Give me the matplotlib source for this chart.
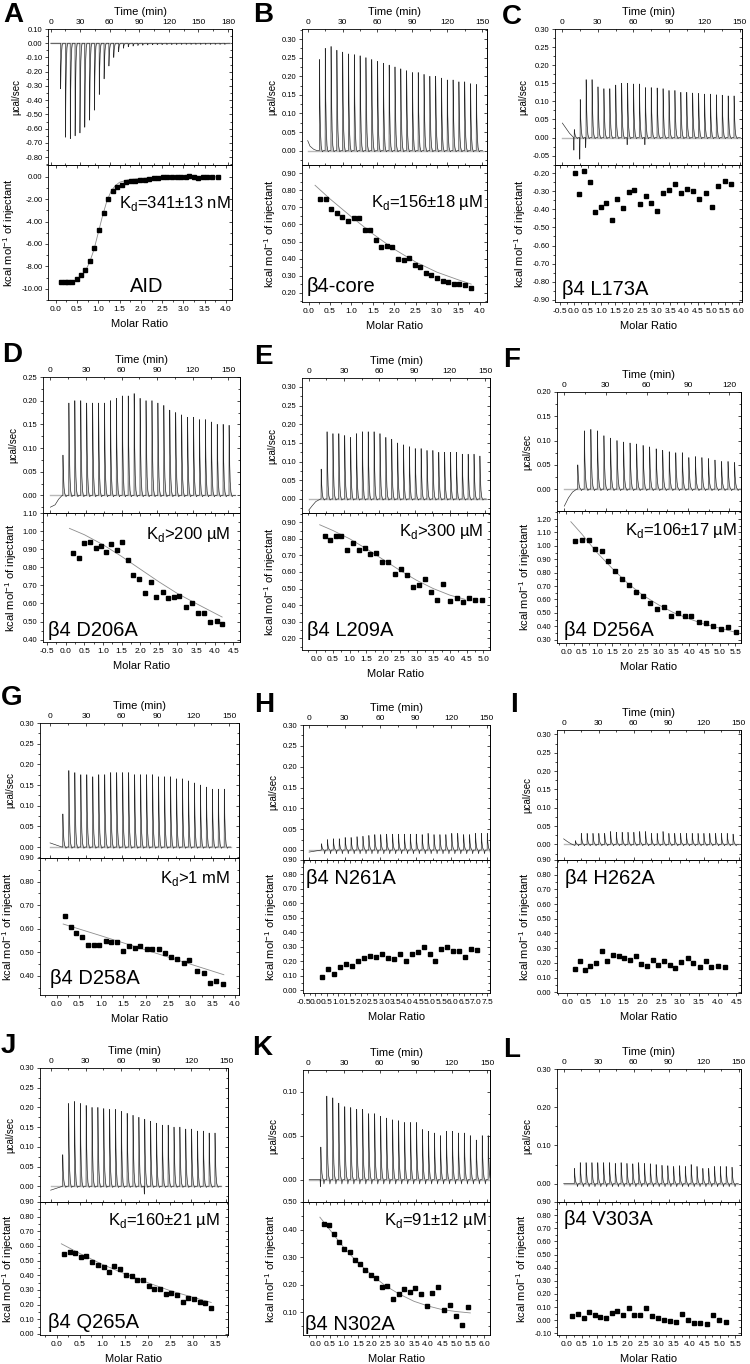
#!/usr/bin/env python3
import numpy as np
import matplotlib
matplotlib.use('Agg')
import matplotlib.pyplot as plt
from matplotlib.ticker import AutoMinorLocator, FormatStrFormatter

plt.rcParams['font.family'] = ['Liberation Sans', 'DejaVu Sans']
plt.rcParams['mathtext.fontset'] = 'custom'
plt.rcParams['mathtext.rm'] = 'Liberation Sans'
plt.rcParams['axes.unicode_minus'] = False
plt.rcParams['axes.linewidth'] = 0.6

# ---------------- data ----------------
# raw thermograms: first injection time, spacing (min), peak heights (ucal/sec)
A_t0, A_dt = 10.0, 4.9
A_peaks = [-0.32, -0.66, -0.67, -0.65, -0.63, -0.59, -0.54, -0.47, -0.36, -0.25,
           -0.16, -0.10, -0.06, -0.035, -0.025, -0.02, -0.016, -0.014, -0.012, -0.011,
           -0.010, -0.010, -0.009, -0.009, -0.009, -0.008, -0.008, -0.008, -0.008, -0.008,
           -0.008, -0.008, -0.008, -0.008, -0.008]
B_t0, B_dt = 10.0, 5.0
B_peaks = [0.245, 0.275, 0.28, 0.27, 0.265, 0.26, 0.258, 0.255, 0.25, 0.245, 0.24, 0.235,
           0.23, 0.225, 0.22, 0.215, 0.21, 0.21, 0.205, 0.20, 0.20, 0.195, 0.19, 0.19,
           0.185, 0.185, 0.18, 0.178]
C_t0, C_dt = 10.0, 5.0
C_peaks = [0.022, 0.105, 0.16, 0.16, 0.14, 0.135, 0.135, 0.145, 0.15, 0.15, 0.148, 0.148,
           0.138, 0.138, 0.137, 0.135, 0.13, 0.13, 0.125, 0.125, 0.123, 0.122, 0.12, 0.12,
           0.118, 0.117, 0.115, 0.115]
D_t0, D_dt = 10.5, 5.0
D_peaks = [0.085, 0.195, 0.20, 0.20, 0.195, 0.195, 0.195, 0.195, 0.20, 0.205, 0.21, 0.21,
           0.215, 0.205, 0.20, 0.20, 0.195, 0.19, 0.18, 0.175, 0.17, 0.165, 0.165, 0.16,
           0.16, 0.155, 0.15, 0.15, 0.148]
E_t0, E_dt = 10.5, 5.0
E_peaks = [0.08, 0.18, 0.175, 0.175, 0.17, 0.165, 0.175, 0.18, 0.18, 0.18, 0.175, 0.165,
           0.16, 0.15, 0.145, 0.14, 0.135, 0.135, 0.13, 0.13, 0.125, 0.125, 0.125, 0.125,
           0.12, 0.12, 0.12, 0.115]
F_t0, F_dt = 9.7, 4.75
F_peaks = [0.05, 0.12, 0.123, 0.12, 0.11, 0.105, 0.10, 0.097, 0.095, 0.093, 0.09, 0.087,
           0.083, 0.08, 0.077, 0.075, 0.075, 0.065, 0.067, 0.065, 0.063, 0.06, 0.057,
           0.057, 0.055]
G_t0, G_dt = 10.6, 5.0
G_peaks = [0.08, 0.185, 0.18, 0.175, 0.175, 0.17, 0.175, 0.175, 0.18, 0.18, 0.18, 0.18,
           0.175, 0.175, 0.175, 0.175, 0.17, 0.17, 0.17, 0.165, 0.165, 0.16, 0.155, 0.15,
           0.145, 0.14, 0.14, 0.14]
H_t0, H_dt = 10.4, 5.0
H_peaks = [0.015, 0.025, 0.027, 0.027, 0.03, 0.03, 0.032, 0.033, 0.035, 0.037, 0.037,
           0.038, 0.038, 0.038, 0.038, 0.038, 0.038, 0.037, 0.04, 0.037, 0.037, 0.037,
           0.04, 0.04, 0.037, 0.037, 0.04, 0.04, 0.04]
I_t0, I_dt = 10.0, 5.0
I_peaks = [0.01, 0.03, 0.03, 0.03, 0.03, 0.03, 0.035, 0.033, 0.033, 0.033, 0.033, 0.035,
           0.035, 0.03, 0.03, 0.035, 0.03, 0.03, 0.03, 0.03, 0.03, 0.03, 0.03, 0.03, 0.03,
           0.03, 0.03, 0.028]
J_t0, J_dt = 10.2, 5.0
J_peaks = [0.08, 0.21, 0.215, 0.21, 0.205, 0.20, 0.20, 0.197, 0.195, 0.195, 0.19, 0.185,
           0.18, 0.175, 0.17, 0.165, 0.16, 0.155, 0.155, 0.15, 0.15, 0.145, 0.145, 0.14,
           0.14, 0.135, 0.135]
K_t0, K_dt = 10.6, 5.0
K_peaks = [0.037, 0.095, 0.093, 0.087, 0.083, 0.082, 0.08, 0.08, 0.075, 0.075, 0.072,
           0.07, 0.068, 0.067, 0.065, 0.065, 0.065, 0.057, 0.055, 0.053, 0.05, 0.055,
           0.055, 0.053, 0.053, 0.05, 0.045, 0.05, 0.05]
L_t0, L_dt = 9.1, 5.0
L_peaks = [0.04, 0.055, 0.055, 0.055, 0.055, 0.055, 0.055, 0.053, 0.055, 0.053, 0.052,
           0.055, 0.053, 0.052, 0.05, 0.048, 0.047, 0.045, 0.047, 0.045, 0.05, 0.045, 0.04,
           0.04, 0.045, 0.045, 0.045, 0.043]

# baseline drift at the start of each run (time, ucal/sec)
A_drift_t, A_drift_y = [0.0], [0.0]
B_drift_t, B_drift_y = [0.0, 2.0, 5.0, 8.0], [0.027, 0.012, 0.004, 0.0]
C_drift_t, C_drift_y = [0.0, 3.0, 6.0, 9.0], [0.04, 0.026, 0.012, 0.002]
D_drift_t, D_drift_y = [0.0, 4.0, 7.0, 10.0], [-0.025, -0.02, -0.008, 0.0]
E_drift_t, E_drift_y = [0.0, 3.0, 6.0, 10.0], [-0.03, -0.018, -0.007, 0.0]
F_drift_t, F_drift_y = [0.0, 3.0, 6.0, 9.0], [-0.035, -0.018, -0.006, 0.0]
G_drift_t, G_drift_y = [0.0, 4.0, 7.0, 10.0], [0.01, 0.006, 0.003, 0.0]
H_drift_t, H_drift_y = [0.0, 6.0, 10.0], [-0.005, -0.002, 0.0]
I_drift_t, I_drift_y = [0.0, 3.0, 6.0, 9.5], [0.015, 0.008, 0.002, -0.003]
J_drift_t, J_drift_y = [0.0, 5.0, 10.0], [-0.01, -0.005, 0.0]
K_drift_t, K_drift_y = [1.0], [0.0]
L_drift_t, L_drift_y = [0.0], [0.0]

# negative excursions just before some injections
C_dip_t, C_dip_y = [10.0, 15.0, 20.0, 55.0, 70.0], [-0.035, -0.06, -0.028, -0.02, -0.02]
J_dip_t, J_dip_y = [80.2], [-0.02]
K_dip_t, K_dip_y = [10.6], [-0.008]

# integrated heats (molar ratio, kcal/mol of injectant)
A_ratio = [0.12, 0.21, 0.30, 0.39, 0.49, 0.59, 0.70, 0.80, 0.91, 1.02, 1.13, 1.23, 1.34,
           1.45, 1.55, 1.66, 1.77, 1.87, 1.98, 2.09, 2.20, 2.30, 2.41, 2.52, 2.62, 2.73,
           2.84, 2.95, 3.05, 3.13, 3.24, 3.34, 3.45, 3.56, 3.67, 3.80]
A_heat = [-9.42, -9.42, -9.42, -9.38, -9.15, -8.75, -8.30, -7.50, -6.35, -4.80, -3.20,
          -2.00, -1.30, -0.95, -0.78, -0.45, -0.38, -0.35, -0.32, -0.28, -0.17, -0.10,
          -0.08, -0.07, -0.06, -0.05, -0.05, -0.05, -0.03, 0.08, -0.05, -0.12, -0.05,
          0.00, 0.00, -0.05]
B_ratio = [0.27, 0.40, 0.53, 0.66, 0.79, 0.92, 1.05, 1.18, 1.31, 1.44, 1.57, 1.70, 1.83,
           1.96, 2.09, 2.22, 2.35, 2.48, 2.61, 2.74, 2.87, 3.00, 3.13, 3.26, 3.39, 3.52,
           3.65, 3.80]
B_heat = [0.75, 0.75, 0.69, 0.665, 0.645, 0.62, 0.64, 0.64, 0.57, 0.565, 0.51, 0.465,
          0.475, 0.47, 0.395, 0.39, 0.405, 0.365, 0.35, 0.315, 0.305, 0.285, 0.27, 0.26,
          0.25, 0.25, 0.245, 0.23]
C_ratio = [0.05, 0.19, 0.37, 0.57, 0.77, 0.97, 1.17, 1.37, 1.58, 1.79, 1.99, 2.19, 2.40,
           2.61, 2.82, 3.03, 3.25, 3.47, 3.69, 3.91, 4.13, 4.35, 4.57, 4.80, 5.03, 5.26,
           5.49, 5.72]
C_heat = [-0.20, -0.315, -0.19, -0.25, -0.415, -0.385, -0.365, -0.46, -0.34, -0.39,
          -0.305, -0.295, -0.37, -0.325, -0.365, -0.41, -0.31, -0.29, -0.26, -0.31,
          -0.285, -0.30, -0.34, -0.31, -0.385, -0.27, -0.24, -0.26]
D_ratio = [0.20, 0.35, 0.50, 0.65, 0.80, 0.95, 1.08, 1.22, 1.37, 1.52, 1.67, 1.82, 1.97,
           2.12, 2.28, 2.43, 2.60, 2.75, 2.90, 3.05, 3.22, 3.38, 3.55, 3.70, 3.87, 4.05,
           4.20]
D_heat = [0.88, 0.85, 0.935, 0.94, 0.905, 0.92, 0.885, 0.93, 0.895, 0.94, 0.84, 0.755,
          0.735, 0.66, 0.72, 0.635, 0.665, 0.63, 0.635, 0.64, 0.58, 0.60, 0.545, 0.55,
          0.495, 0.505, 0.485]
E_ratio = [0.25, 0.42, 0.58, 0.75, 0.92, 1.10, 1.28, 1.45, 1.62, 1.80, 1.97, 2.15, 2.35,
           2.52, 2.70, 2.88, 3.07, 3.25, 3.43, 3.62, 3.80, 4.00, 4.20, 4.38, 4.57, 4.75,
           4.95]
E_heat = [0.82, 0.79, 0.82, 0.815, 0.73, 0.775, 0.735, 0.745, 0.71, 0.715, 0.66, 0.66,
          0.59, 0.615, 0.58, 0.51, 0.52, 0.555, 0.48, 0.43, 0.53, 0.425, 0.44, 0.42, 0.44,
          0.43, 0.43]
F_ratio = [0.30, 0.52, 0.73, 0.95, 1.15, 1.37, 1.60, 1.82, 2.05, 2.28, 2.50, 2.72, 2.95,
           3.17, 3.40, 3.62, 3.85, 4.07, 4.32, 4.55, 4.78, 5.02, 5.27, 5.52]
F_heat = [1.035, 1.045, 1.04, 0.98, 0.96, 0.89, 0.815, 0.755, 0.71, 0.655, 0.625, 0.57,
          0.525, 0.545, 0.475, 0.50, 0.475, 0.475, 0.435, 0.425, 0.405, 0.38, 0.395, 0.36]
G_ratio = [0.18, 0.32, 0.44, 0.57, 0.70, 0.83, 0.96, 1.10, 1.22, 1.35, 1.48, 1.62, 1.75,
           1.88, 2.02, 2.15, 2.30, 2.43, 2.57, 2.70, 2.85, 2.98, 3.15, 3.30, 3.43, 3.58,
           3.73]
G_heat = [0.655, 0.607, 0.58, 0.565, 0.533, 0.53, 0.53, 0.55, 0.545, 0.543, 0.507, 0.527,
          0.52, 0.525, 0.513, 0.515, 0.512, 0.497, 0.48, 0.473, 0.455, 0.467, 0.42, 0.413,
          0.37, 0.377, 0.366]
H_ratio = [0.30, 0.56, 0.82, 1.08, 1.34, 1.60, 1.86, 2.12, 2.38, 2.64, 2.90, 3.16, 3.42,
           3.68, 3.94, 4.20, 4.46, 4.72, 4.98, 5.24, 5.50, 5.76, 6.02, 6.28, 6.54, 6.80,
           7.06]
H_heat = [0.095, 0.145, 0.11, 0.16, 0.185, 0.165, 0.205, 0.225, 0.24, 0.23, 0.25, 0.225,
          0.215, 0.25, 0.205, 0.25, 0.265, 0.30, 0.25, 0.20, 0.285, 0.30, 0.275, 0.275,
          0.23, 0.285, 0.28]
I_ratio = [0.20, 0.33, 0.48, 0.62, 0.77, 0.92, 1.07, 1.22, 1.37, 1.52, 1.67, 1.82, 1.97,
           2.12, 2.27, 2.42, 2.57, 2.72, 2.87, 3.03, 3.20, 3.35, 3.52, 3.68, 3.83, 4.02,
           4.20]
I_heat = [0.155, 0.215, 0.15, 0.18, 0.20, 0.28, 0.21, 0.255, 0.25, 0.235, 0.22, 0.245,
          0.19, 0.18, 0.22, 0.185, 0.21, 0.185, 0.165, 0.205, 0.23, 0.20, 0.17, 0.21,
          0.175, 0.18, 0.17]
J_ratio = [0.15, 0.28, 0.40, 0.53, 0.65, 0.78, 0.90, 1.03, 1.15, 1.27, 1.40, 1.52, 1.65,
           1.77, 1.90, 2.02, 2.15, 2.28, 2.40, 2.52, 2.65, 2.77, 2.90, 3.02, 3.15, 3.27,
           3.40]
J_heat = [0.545, 0.56, 0.55, 0.525, 0.53, 0.49, 0.47, 0.455, 0.425, 0.465, 0.44, 0.40,
          0.395, 0.365, 0.365, 0.325, 0.305, 0.305, 0.275, 0.28, 0.265, 0.22, 0.245, 0.24,
          0.215, 0.21, 0.18]
K_ratio = [0.28, 0.47, 0.64, 0.83, 1.02, 1.21, 1.40, 1.58, 1.77, 1.96, 2.15, 2.35, 2.55,
           2.76, 2.95, 3.14, 3.34, 3.55, 3.75, 3.95, 4.15, 4.36, 4.57, 4.78, 4.99, 5.20,
           5.40]
K_heat = [0.42, 0.418, 0.385, 0.355, 0.33, 0.318, 0.29, 0.277, 0.255, 0.235, 0.225, 0.193,
          0.197, 0.148, 0.165, 0.185, 0.173, 0.187, 0.165, 0.123, 0.17, 0.192, 0.108,
          0.128, 0.088, 0.055, 0.118]
L_ratio = [0.18, 0.38, 0.57, 0.75, 0.93, 1.11, 1.29, 1.48, 1.66, 1.84, 2.03, 2.21, 2.40,
           2.58, 2.78, 2.97, 3.17, 3.36, 3.57, 3.76, 3.96, 4.16, 4.36, 4.57, 4.77, 4.97,
           5.18]
L_heat = [0.03, 0.05, 0.015, 0.06, 0.04, 0.025, 0.02, 0.055, 0.07, 0.04, 0.09, 0.04, 0.04,
          0.09, 0.035, 0.02, 0.005, -0.005, -0.015, 0.045, 0.005, -0.025, -0.025, -0.03,
          0.04, 0.005, -0.015]

# fitted binding curves
A_fit_x = [0.1, 0.3, 0.5, 0.6, 0.7, 0.8, 0.9, 1.0, 1.1, 1.2, 1.3, 1.4, 1.5, 1.7, 2.0,
           2.5, 3.0, 3.8]
A_fit_y = [-9.45, -9.42, -9.2, -8.9, -8.4, -7.6, -6.5, -5.0, -3.5, -2.2, -1.3, -0.8,
           -0.5, -0.28, -0.15, -0.07, -0.04, -0.02]
B_fit_x = [0.15, 0.5, 1.0, 1.5, 2.0, 2.5, 3.0, 3.5, 3.8]
B_fit_y = [0.83, 0.75, 0.645, 0.545, 0.455, 0.38, 0.32, 0.275, 0.25]
D_fit_x = [0.1, 0.5, 1.0, 1.5, 2.0, 2.5, 3.0, 3.5, 4.2]
D_fit_y = [1.015, 0.98, 0.925, 0.86, 0.79, 0.72, 0.655, 0.60, 0.525]
E_fit_x = [0.1, 0.5, 1.0, 1.5, 2.0, 2.5, 3.0, 3.5, 4.0, 4.45]
E_fit_y = [0.885, 0.85, 0.80, 0.74, 0.675, 0.61, 0.55, 0.50, 0.46, 0.435]
F_fit_x = [0.15, 0.5, 1.0, 1.5, 2.0, 2.5, 3.0, 3.5, 4.0, 4.5, 5.0, 5.5]
F_fit_y = [1.18, 1.09, 0.95, 0.83, 0.72, 0.63, 0.56, 0.50, 0.455, 0.415, 0.385, 0.355]
G_fit_x = [0.15, 1.0, 2.0, 3.0, 3.75]
G_fit_y = [0.62, 0.57, 0.51, 0.45, 0.405]
J_fit_x = [0.1, 0.5, 1.0, 1.5, 2.0, 2.5, 3.0, 3.4]
J_fit_y = [0.615, 0.55, 0.475, 0.41, 0.35, 0.295, 0.25, 0.215]
K_fit_x = [0.15, 0.5, 1.0, 1.5, 2.0, 2.5, 3.0, 3.5, 4.0, 4.5, 5.0, 5.5]
K_fit_y = [0.445, 0.40, 0.335, 0.28, 0.235, 0.195, 0.165, 0.14, 0.123, 0.11, 0.103, 0.098]

KD = r'K$_\mathregular{d}$'

# shape of one injection peak (relative time, relative height)
SPIKE_T = [0.0, 0.12, 0.5, 1.0, 1.6, 2.3]
SPIKE_Y = [0.0, 1.0, 0.5, 0.2, 0.05, 0.0]

# layout: box = (left, right, top, divider, bottom) in pixels
panels = [
    dict(letter='A', lpos=(3, 2), box=(48, 232, 29, 165, 300),
         tlim=(-2.7, 184), tmax=180, plim=(-0.855, 0.10), pt=(-0.80, 0.10, 0.10),
         t0=A_t0, dt=A_dt, peaks=A_peaks, drift=(A_drift_t, A_drift_y), under=0.0,
         rlim=(-0.18, 4.14), rt=(0.0, 4.0), hlim=(-11.0, 1.04), ht=(-10.0, 0.0, 2.0),
         ratio=A_ratio, heat=A_heat, fit=(A_fit_x, A_fit_y),
         kd=(KD + '=341±13 nM', 0.995, 0.68, 'right'), name=('AID', 0.536, 0.062, 'center')),
    dict(letter='B', lpos=(253, 2), box=(302, 487, 29, 165, 302),
         tlim=(-4.9, 154.3), tmax=150, plim=(-0.0386, 0.327), pt=(0.0, 0.30, 0.05),
         t0=B_t0, dt=B_dt, peaks=B_peaks, drift=(B_drift_t, B_drift_y), under=0.003,
         rlim=(-0.155, 4.17), rt=(0.0, 4.0), hlim=(0.145, 0.949), ht=(0.2, 0.9, 0.1),
         ratio=B_ratio, heat=B_heat, fit=(B_fit_x, B_fit_y),
         kd=(KD + '=156±18 µM', 0.978, 0.695, 'right'), name=('β4-core', 0.027, 0.073, 'left')),
    dict(letter='C', lpos=(502, 4), box=(555, 742, 29, 165, 302),
         tlim=(-6.2, 151.8), tmax=150, plim=(-0.076, 0.30), pt=(-0.05, 0.30, 0.05),
         t0=C_t0, dt=C_dt, peaks=C_peaks, drift=(C_drift_t, C_drift_y), under=0.003,
         dips=(C_dip_t, C_dip_y),
         rlim=(-0.69, 6.12), rt=(-0.5, 6.0), hlim=(-0.913, -0.154), ht=(-0.9, -0.2, 0.1),
         ratio=C_ratio, heat=C_heat, fit=None,
         kd=None, name=('β4 L173A', 0.036, 0.05, 'left')),
    dict(letter='D', lpos=(2, 342), box=(43, 240, 377, 513, 642),
         tlim=(-6.2, 159.8), tmax=150, plim=(-0.0373, 0.25), pt=(0.0, 0.25, 0.05),
         t0=D_t0, dt=D_dt, peaks=D_peaks, drift=(D_drift_t, D_drift_y), under=0.003,
         rlim=(-0.61, 4.68), rt=(-0.5, 4.5), hlim=(0.387, 1.10), ht=(0.4, 1.1, 0.1),
         ratio=D_ratio, heat=D_heat, fit=(D_fit_x, D_fit_y),
         kd=(KD + '>200 µM', 0.95, 0.80, 'right'), name=('β4 D206A', 0.025, 0.05, 'left')),
    dict(letter='E', lpos=(254, 344), box=(302, 490, 378, 513, 650),
         tlim=(-5.7, 154.2), tmax=150, plim=(-0.0375, 0.324), pt=(0.0, 0.30, 0.05),
         t0=E_t0, dt=E_dt, peaks=E_peaks, drift=(E_drift_t, E_drift_y), under=0.003,
         rlim=(-0.43, 5.2), rt=(0.0, 5.0), hlim=(0.129, 0.956), ht=(0.2, 0.9, 0.1),
         ratio=E_ratio, heat=E_heat, fit=(E_fit_x, E_fit_y),
         kd=(KD + '>300 µM', 0.965, 0.83, 'right'), name=('β4 L209A', 0.027, 0.10, 'left')),
    dict(letter='F', lpos=(503, 347), box=(557, 741, 392, 511, 643),
         tlim=(-5.3, 128.5), tmax=120, plim=(-0.045, 0.20), pt=(0.0, 0.20, 0.05),
         t0=F_t0, dt=F_dt, peaks=F_peaks, drift=(F_drift_t, F_drift_y), under=0.003,
         rlim=(-0.30, 5.68), rt=(0.0, 5.5), hlim=(0.275, 1.26), ht=(0.3, 1.2, 0.1),
         ratio=F_ratio, heat=F_heat, fit=(F_fit_x, F_fit_y),
         kd=(KD + '=106±17 µM', 0.98, 0.82, 'right'), name=('β4 D256A', 0.04, 0.05, 'left')),
    dict(letter='G', lpos=(1, 685), box=(40, 239, 723, 858, 995),
         tlim=(-8.4, 158), tmax=150, plim=(-0.0265, 0.30), pt=(0.0, 0.30, 0.05),
         t0=G_t0, dt=G_dt, peaks=G_peaks, drift=(G_drift_t, G_drift_y), under=0.003,
         rlim=(-0.37, 4.09), rt=(0.0, 4.0), hlim=(0.319, 0.90), ht=(0.4, 0.9, 0.1),
         ratio=G_ratio, heat=G_heat, fit=(G_fit_x, G_fit_y),
         kd=(KD + '>1 mM', 0.955, 0.82, 'right'), name=('β4 D258A', 0.05, 0.08, 'left')),
    dict(letter='H', lpos=(254, 692), box=(303, 490, 725, 860, 993),
         tlim=(-5.1, 152.8), tmax=150, plim=(-0.024, 0.30), pt=(0.0, 0.30, 0.05),
         t0=H_t0, dt=H_dt, peaks=H_peaks, drift=(H_drift_t, H_drift_y), under=0.009,
         rlim=(-0.54, 7.62), rt=(-0.5, 7.5), hlim=(-0.018, 0.90), ht=(0.0, 0.9, 0.1),
         ratio=H_ratio, heat=H_heat, fit=None,
         kd=None, name=('β4 N261A', 0.015, 0.82, 'left')),
    dict(letter='I', lpos=(510, 692), box=(557, 741, 730, 860, 993),
         tlim=(-5.7, 151.9), tmax=150, plim=(-0.0427, 0.312), pt=(0.0, 0.30, 0.05),
         t0=I_t0, dt=I_dt, peaks=I_peaks, drift=(I_drift_t, I_drift_y), under=0.004,
         rlim=(-0.27, 4.62), rt=(0.0, 4.5), hlim=(-0.005, 0.90), ht=(0.0, 0.9, 0.1),
         ratio=I_ratio, heat=I_heat, fit=None,
         kd=None, name=('β4 H262A', 0.045, 0.82, 'left')),
    dict(letter='J', lpos=(1, 1033), box=(40, 228, 1068, 1202, 1335),
         tlim=(-9.1, 151.4), tmax=150, plim=(-0.040, 0.30), pt=(0.0, 0.30, 0.05),
         t0=J_t0, dt=J_dt, peaks=J_peaks, drift=(J_drift_t, J_drift_y), under=0.003,
         dips=(J_dip_t, J_dip_y),
         rlim=(-0.37, 3.77), rt=(0.0, 3.5), hlim=(-0.007, 0.90), ht=(0.0, 0.9, 0.1),
         ratio=J_ratio, heat=J_heat, fit=(J_fit_x, J_fit_y),
         kd=(KD + '=160±21 µM', 0.96, 0.825, 'right'), name=('β4 Q265A', 0.045, 0.05, 'left')),
    dict(letter='K', lpos=(252, 1035), box=(303, 490, 1070, 1202, 1335),
         tlim=(-4.2, 152.2), tmax=150, plim=(-0.0255, 0.1247), pt=(0.0, 0.10, 0.05),
         t0=K_t0, dt=K_dt, peaks=K_peaks, drift=(K_drift_t, K_drift_y), under=0.005,
         dips=(K_dip_t, K_dip_y),
         rlim=(-0.45, 6.2), rt=(0.0, 6.0), hlim=(0.018, 0.50), ht=(0.1, 0.5, 0.1),
         ratio=K_ratio, heat=K_heat, fit=(K_fit_x, K_fit_y),
         kd=(KD + '=91±12 µM', 0.98, 0.83, 'right'), name=('β4 N302A', 0.01, 0.04, 'left')),
    dict(letter='L', lpos=(503, 1037), box=(557, 741, 1069, 1202, 1335),
         tlim=(-5.7, 151.9), tmax=150, plim=(-0.048, 0.30), pt=(0.0, 0.30, 0.10),
         t0=L_t0, dt=L_dt, peaks=L_peaks, drift=(L_drift_t, L_drift_y), under=0.008,
         rlim=(-0.30, 5.68), rt=(0.0, 5.5), hlim=(-0.113, 0.90), ht=(-0.1, 0.9, 0.1),
         ratio=L_ratio, heat=L_heat, fit=None,
         kd=None, name=('β4 V303A', 0.04, 0.83, 'left')),
]

W, H = 750.0, 1364.0
TICK = 6
TL, TLm, TW = 2.5, 1.4, 0.5


def tick_list(lo, hi, step):
    n = int(round((hi - lo) / step))
    return [lo + k * step for k in range(n + 1)]


def make_trace(t0, dt, peaks, drift_t, drift_y, under, dips):
    ts = list(drift_t)
    ys = list(drift_y)
    for i, h in enumerate(peaks):
        ti = t0 + dt * i
        for a, b in zip(SPIKE_T, SPIKE_Y):
            ts.append(ti + a)
            ys.append(h * b)
        ts += [ti + 2.7, ti + 3.4]
        ys += [-np.sign(h) * under, 0.0]
    for td, yd in zip(*dips):
        ts += [td - 0.5, td - 0.25, td - 0.02]
        ys += [0.0, yd, 0.0]
    ts.append(t0 + dt * len(peaks) + 0.5)
    ys.append(0.0)
    order = np.argsort(ts, kind='stable')
    return np.array(ts)[order], np.array(ys)[order]


def side_ticks(ax, which, ticks):
    # inward ticks without labels on the opposite side (right / top)
    if which == 'right':
        sec = ax.secondary_yaxis('right')
        sec.set_yticks(ticks)
        sec.yaxis.set_minor_locator(AutoMinorLocator(2))
        sec.tick_params(axis='y', which='both', direction='in', labelright=False,
                        width=TW)
    else:
        sec = ax.secondary_xaxis('top')
        sec.set_xticks(ticks)
        sec.xaxis.set_minor_locator(AutoMinorLocator(2))
        sec.tick_params(axis='x', which='both', direction='in', labeltop=False,
                        width=TW)
    sec.tick_params(which='major', length=TL)
    sec.tick_params(which='minor', length=TLm)


fig = plt.figure(figsize=(7.5, 13.64), dpi=100)

for p in panels:
    l, r, t, m, b = p['box']
    ax1 = fig.add_axes([l / W, 1 - m / H, (r - l) / W, (m - t) / H])
    ax2 = fig.add_axes([l / W, 1 - b / H, (r - l) / W, (b - m) / H])

    # ---- raw thermogram ----
    ts, ys = make_trace(p['t0'], p['dt'], p['peaks'], p['drift'][0], p['drift'][1],
                        p['under'], p.get('dips', ([], [])))
    ax1.plot([ts[0], ts[-1]], [0, 0], color='0.72', lw=1.0, zorder=1)
    # light grey body of each peak, dark trace on top
    for i, h in enumerate(p['peaks']):
        ti = p['t0'] + p['dt'] * i
        ax1.fill_between([ti + a for a in SPIKE_T], 0, [h * b for b in SPIKE_Y],
                         color='0.78', lw=0, zorder=1.5)
    ax1.plot(ts, ys, color='0.15', lw=0.45, zorder=2)
    ax1.set_xlim(p['tlim'])
    ax1.set_ylim(p['plim'])
    ax1.set_xticks(tick_list(0, p['tmax'], 30))
    ax1.xaxis.set_minor_locator(AutoMinorLocator(2))
    ax1.xaxis.set_major_formatter(FormatStrFormatter('%d'))
    ax1.tick_params(axis='x', which='both', top=True, bottom=True, labeltop=True,
                    labelbottom=False, direction='in', width=TW, labelsize=TICK, pad=2)
    ax1.xaxis.set_label_position('top')
    ax1.set_xlabel('Time (min)', fontsize=8, labelpad=3)
    pticks = tick_list(*p['pt'])
    ax1.set_yticks(pticks)
    ax1.yaxis.set_minor_locator(AutoMinorLocator(2))
    ax1.yaxis.set_major_formatter(FormatStrFormatter('%.2f'))
    ax1.tick_params(axis='y', which='both', left=True, right=False, direction='out',
                    width=TW, labelsize=TICK - 0.5, pad=1.5)
    ax1.tick_params(which='major', length=TL)
    ax1.tick_params(which='minor', length=TLm)
    ax1.set_ylabel('µcal/sec', fontsize=7, labelpad=3)
    side_ticks(ax1, 'right', pticks)

    # ---- integrated heats ----
    if p['fit'] is not None:
        ax2.plot(p['fit'][0], p['fit'][1], color='0.55', lw=0.6, zorder=1)
    ax2.plot(p['ratio'], p['heat'], 's', color='black', ms=3.3, zorder=2)
    ax2.set_xlim(p['rlim'])
    ax2.set_ylim(p['hlim'])
    rticks = tick_list(p['rt'][0], p['rt'][1], 0.5)
    ax2.set_xticks(rticks)
    ax2.xaxis.set_minor_locator(AutoMinorLocator(2))
    ax2.xaxis.set_major_formatter(FormatStrFormatter('%.1f'))
    hticks = tick_list(*p['ht'])
    ax2.set_yticks(hticks)
    ax2.yaxis.set_minor_locator(AutoMinorLocator(2))
    ax2.yaxis.set_major_formatter(FormatStrFormatter('%.2f'))
    ax2.tick_params(axis='x', which='both', top=False, bottom=True, direction='out',
                    width=TW, labelsize=TICK, pad=2)
    ax2.tick_params(axis='y', which='both', left=True, right=False, direction='out',
                    width=TW, labelsize=TICK - 0.5, pad=1.5)
    ax2.tick_params(which='major', length=TL)
    ax2.tick_params(which='minor', length=TLm)
    ax2.set_xlabel('Molar Ratio', fontsize=8, labelpad=4)
    ax2.set_ylabel('kcal mol$^{-1}$ of injectant', fontsize=8, labelpad=3)
    side_ticks(ax2, 'right', hticks)
    side_ticks(ax2, 'top', rticks)

    if p['kd'] is not None:
        txt, x, y, ha = p['kd']
        ax2.text(x, y, txt, transform=ax2.transAxes, fontsize=12, ha=ha, va='baseline')
    txt, x, y, ha = p['name']
    ax2.text(x, y, txt, transform=ax2.transAxes, fontsize=14.5, ha=ha, va='baseline')

    fig.text(p['lpos'][0] / W, 1 - p['lpos'][1] / H, p['letter'], fontsize=20,
             fontweight='bold', ha='left', va='top')

fig.savefig('out.png', dpi=100)
